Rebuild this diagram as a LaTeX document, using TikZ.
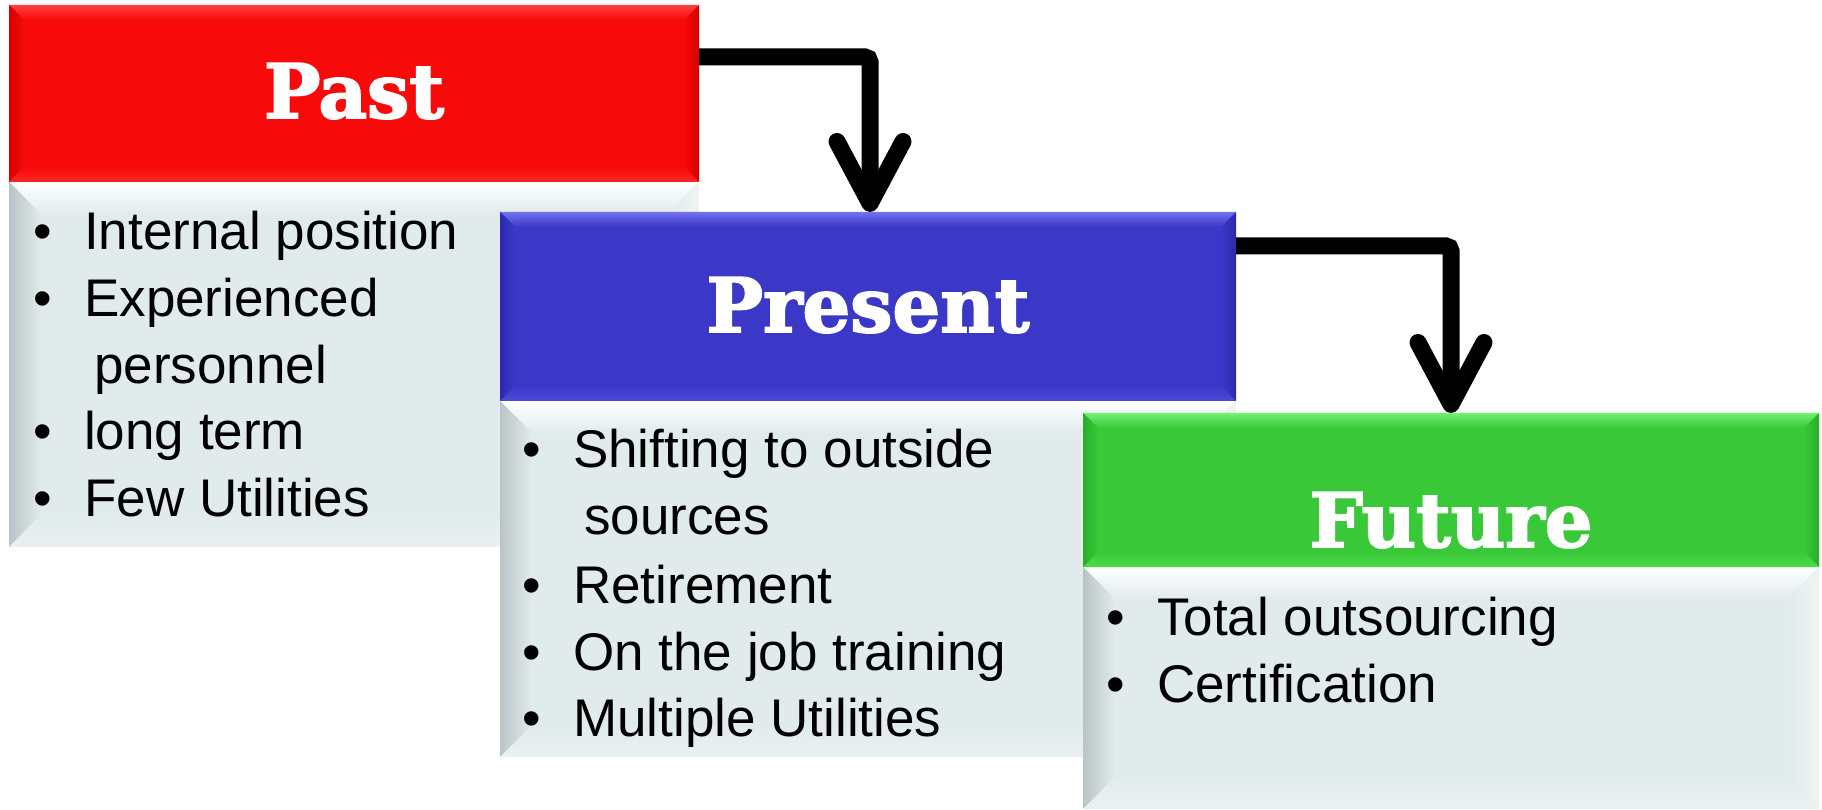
\documentclass[tikz,border=0pt]{standalone}
\usepackage{fontspec}
\setmainfont{Liberation Sans}
\newfontfamily\hdrfont{DejaVu Serif}[BoldFeatures={FakeBold=2.5}]
\usetikzlibrary{arrows.meta,calc}
\definecolor{redB}{HTML}{F70A0A}\definecolor{redT}{HTML}{FF4040}\definecolor{redS}{HTML}{D60000}\definecolor{redBt}{HTML}{FF2626}
\definecolor{bluB}{HTML}{3B38C8}\definecolor{bluT}{HTML}{7272F2}\definecolor{bluS}{HTML}{2C29AE}\definecolor{bluBt}{HTML}{4C4ADA}
\definecolor{grnB}{HTML}{38C838}\definecolor{grnT}{HTML}{72F272}\definecolor{grnS}{HTML}{29AD29}\definecolor{grnBt}{HTML}{4ADA4A}
\definecolor{bodB}{HTML}{E1EBEC}\definecolor{bodT}{HTML}{FFFFFF}\definecolor{bodS}{HTML}{BAC3C5}\definecolor{bodR}{HTML}{EEF4F4}\definecolor{bodBt}{HTML}{EAF1F2}
\newcommand\bevelfill[7]{%
  \fill[#3] (#1.south west) rectangle (#1.north east);
  \shade[top color=#4, bottom color=#3] (#1.north west) -- (#1.north east) -- ([xshift=-#2,yshift=-#2]#1.north east) -- ([xshift=#2,yshift=-#2]#1.north west) -- cycle;
  \shade[left color=#5, right color=#3] (#1.north west) -- ([xshift=#2,yshift=-#2]#1.north west) -- ([xshift=#2,yshift=#2]#1.south west) -- (#1.south west) -- cycle;
  \shade[left color=#3, right color=#6] (#1.north east) -- ([xshift=-#2,yshift=-#2]#1.north east) -- ([xshift=-#2,yshift=#2]#1.south east) -- (#1.south east) -- cycle;
  \shade[top color=#3, bottom color=#7] (#1.south west) -- ([xshift=#2,yshift=#2]#1.south west) -- ([xshift=-#2,yshift=#2]#1.south east) -- (#1.south east) -- cycle;
}
\newcommand\bul{\makebox[51pt][l]{\hspace{0.5pt}•}}
\tikzset{
  boxshape/.style={rectangle, inner sep=0pt, outer sep=0pt},
  hdrtext/.style={anchor=base, text=white, font=\hdrfont\bfseries\fontsize{75pt}{90pt}\selectfont, inner sep=0pt},
  item/.style={anchor=base west, inner sep=0pt, text=black, font=\fontsize{53pt}{67pt}\selectfont},
  conn/.style={line width=17pt, rounded corners=5pt, -{Straight Barb[length=62pt,width=66pt,round]}}
}
\begin{document}
\begin{tikzpicture}[x=1pt,y=1pt]
\useasboundingbox (0,0) rectangle (1822,809);
% ---------- Past ----------
\node[boxshape, minimum width=690pt, minimum height=365pt] (pastB) at (354,444.5) {};
\node[boxshape, minimum width=690pt, minimum height=177pt] (pastH) at (354,715.5) {};
\bevelfill{pastB}{32pt}{bodB}{bodT}{bodS}{bodR}{bodBt}
\bevelfill{pastH}{15pt}{redB}{redT}{redS}{redS}{redBt}
\node[hdrtext] (pastT) at (354,691) {Past};
\node[item] (p1) at (33,559) {\bul Internal position};
\node[item] (p2) at (33,492) {\bul Experienced};
\node[item] (p3) at (94,425) {personnel};
\node[item] (p4) at (33,359) {\bul long term};
\node[item] (p5) at (33,292) {\bul Few Utilities};
% ---------- Present ----------
\node[boxshape, minimum width=736pt, minimum height=356pt] (presB) at (868,230) {};
\node[boxshape, minimum width=736pt, minimum height=189pt] (presH) at (868,502.5) {};
\bevelfill{presB}{32pt}{bodB}{bodT}{bodS}{bodR}{bodBt}
\bevelfill{presH}{15pt}{bluB}{bluT}{bluS}{bluS}{bluBt}
\node[hdrtext] (presT) at (868,477) {Present};
\node[item] (q1) at (522,341) {\bul Shifting to outside};
\node[item] (q2) at (584,274) {sources};
\node[item] (q3) at (522,206) {\bul Retirement};
\node[item] (q4) at (522,139) {\bul On the job training};
\node[item] (q5) at (522,73) {\bul Multiple Utilities};
% ---------- Future ----------
\node[boxshape, minimum width=736pt, minimum height=242pt] (futB) at (1451,121) {};
\node[boxshape, minimum width=736pt, minimum height=154pt] (futH) at (1451,319) {};
\bevelfill{futB}{32pt}{bodB}{bodT}{bodS}{bodR}{bodBt}
\bevelfill{futH}{15pt}{grnB}{grnT}{grnS}{grnS}{grnBt}
\node[hdrtext] (futT) at (1451,262) {Future};
\node[item] (r1) at (1106,174) {\bul Total outsourcing};
\node[item] (r2) at (1106,107) {\bul Certification};
% ---------- connectors ----------
\coordinate (a1) at (870,752);
\coordinate (a2) at (1451,563);
\draw[conn] (pastH.east |- a1) -- (a1) -- (a1 |- presH.north);
\draw[conn] (presH.east |- a2) -- (a2) -- (a2 |- futH.north);
\end{tikzpicture}
\end{document}
